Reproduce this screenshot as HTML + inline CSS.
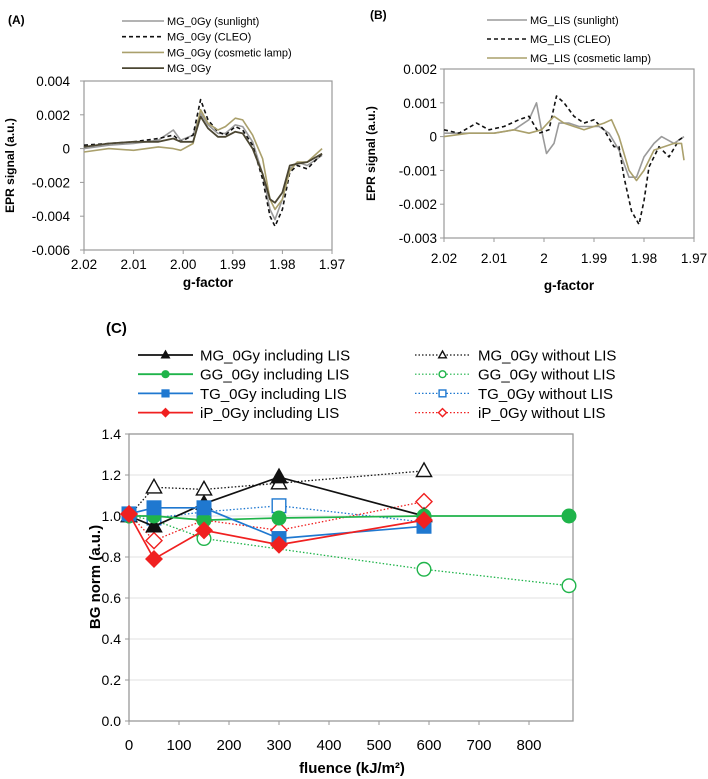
<!DOCTYPE html>
<html><head><meta charset="utf-8"><style>
html,body{margin:0;padding:0;background:#fff}
svg{display:block;font-family:"Liberation Sans",sans-serif}
</style></head><body>
<svg id="chart" width="708" height="779" viewBox="0 0 708 779" xmlns="http://www.w3.org/2000/svg"></svg>
<script>
// ---------- Panel A data ----------
const aG = [2.02,2.015,2.01,2.005,2.002,2.0005,1.998,1.9965,1.995,1.993,1.9915,1.9895,1.988,1.986,1.984,1.9825,1.9815,1.980,1.9785,1.977,1.975,1.972];
const aSun = [0,0.0002,0.0003,0.0005,0.0011,0.0005,0.0008,0.0021,0.0014,0.0009,0.0009,0.0014,0.0013,0.0004,-0.0015,-0.0036,-0.0042,-0.0030,-0.0012,-0.0008,-0.0010,-0.0004];
const aCleo = [0.0002,0.0003,0.0004,0.0006,0.0008,0.0004,0.0008,0.0029,0.0017,0.0010,0.0008,0.0013,0.0011,0.0002,-0.0018,-0.0040,-0.0046,-0.0036,-0.0014,-0.0010,-0.0012,-0.0003];
const aCos = [-0.0002,0,-0.0001,0.0001,0,-0.0001,0.0003,0.0023,0.0015,0.0011,0.0013,0.0018,0.0017,0.0008,-0.0006,-0.0030,-0.0036,-0.0030,-0.0013,-0.0008,-0.0008,0.0000];
const aBase = [0.0001,0.0003,0.0004,0.0004,0.0006,0.0004,0.0004,0.0019,0.0012,0.0007,0.0007,0.0010,0.0009,0.0000,-0.0015,-0.0030,-0.0032,-0.0026,-0.0010,-0.0009,-0.0008,-0.0003];
const aYTicks = ["0.004","0.002","0","-0.002","-0.004","-0.006"];
const aXTicks = ["2.02","2.01","2.00","1.99","1.98","1.97"];
// ---------- Panel B data ----------
const bSunG = [2.02,2.015,2.01,2.006,2.003,2.0015,2.0005,1.9995,1.998,1.997,1.995,1.993,1.991,1.989,1.987,1.985,1.983,1.9815,1.980,1.978,1.9765,1.974,1.972];
const bSun = [0.0001,0.0001,0.0001,0.0002,0.0005,0.0010,0.0002,-0.0005,-0.0002,0.0004,0.0004,0.0003,0.0003,0.0003,0.0001,-0.0004,-0.0012,-0.0012,-0.0006,-0.0002,0,-0.0002,0.0000];
const bCleoG = [2.02,2.017,2.0135,2.011,2.008,2.005,2.003,2.001,1.999,1.9975,1.996,1.994,1.992,1.99,1.988,1.986,1.985,1.984,1.9825,1.981,1.980,1.979,1.977,1.975,1.973,1.972];
const bCleo = [0.0002,0.0001,0.0004,0.0002,0.0003,0.0005,0.0006,0.0001,0.0002,0.0012,0.0010,0.0006,0.0004,0.0005,0.0002,-0.0003,-0.0003,-0.0012,-0.0022,-0.0026,-0.0019,-0.0009,-0.0003,-0.0006,-0.0001,0.0000];
const bCosG = [2.02,2.015,2.01,2.006,2.003,2.0005,1.998,1.996,1.994,1.992,1.990,1.988,1.9865,1.985,1.983,1.9815,1.980,1.978,1.976,1.974,1.9725,1.972];
const bCos = [0,0.0001,0.0001,0.0002,0.0001,0.0002,0.0006,0.0004,0.0003,0.0002,0.0003,0.0004,0.0005,0.0000,-0.0010,-0.0013,-0.0010,-0.0004,-0.0003,-0.0002,-0.0002,-0.0007];
const bYTicks = ["0.002","0.001","0","-0.001","-0.002","-0.003"];
const bXTicks = ["2.02","2.01","2","1.99","1.98","1.97"];
// ---------- Panel C data ----------
const cX5 = [0,50,150,300,590];
const cX6 = [0,50,150,300,590,880];
const cXGGw = [0,50,150,590,880];
const mgInc = [1.0,0.95,1.06,1.19,1.0];
const mgWo = [1.0,1.14,1.13,1.16,1.22];
const ggInc = [1.0,1.0,0.98,0.99,1.0,1.0];
const ggWo = [1.0,0.98,0.89,0.74,0.66];
const tgInc = [1.01,1.04,1.04,0.89,0.95];
const tgWo = [1.01,0.99,1.02,1.05,0.97];
const ipInc = [1.01,0.79,0.93,0.86,0.98];
const ipWo = [1.01,0.88,0.98,0.93,1.07];
const cYTicks = ["0.0","0.2","0.4","0.6","0.8","1.0","1.2","1.4"];
const cXTicks = ["0","100","200","300","400","500","600","700","800"];

const NS="http://www.w3.org/2000/svg";
const svg=document.getElementById('chart');
function el(tag,attrs,parent,text){const e=document.createElementNS(NS,tag);for(const k in attrs)e.setAttribute(k,attrs[k]);if(text!==undefined)e.textContent=text;(parent||svg).appendChild(e);return e;}
function group(name){const g=el('g',{});return g;}
function path(xs,ys,fx,fy){return xs.map((x,i)=>(i?'L':'M')+fx(x).toFixed(1)+','+fy(ys[i]).toFixed(1)).join('');}

function epr(name,lbl,lblX,lblY,L,R,T,B,ymax,ymin,yt,xt,yLabX,xLabY,titleY,ytitleX,series,legend){
  const g=group(name);
  const fx=v=>L+(2.02-v)/0.05*(R-L);
  const fy=v=>T+(ymax-v)/(ymax-ymin)*(B-T);
  const t=el('text',{x:lblX,y:lblY,'font-size':12,'font-weight':'bold'},g,lbl);
  
  const box=el('rect',{x:L,y:T,width:R-L,height:B-T,fill:'none',stroke:'#999','stroke-width':1.2},g);
  
  yt.forEach((s,i)=>{const y=T+i*(B-T)/(yt.length-1);
    el('line',{x1:L-4,x2:L,y1:y,y2:y,stroke:'#999'},g);
    const tt=el('text',{x:yLabX,y:y+5,'font-size':13.5,'text-anchor':'end'},g,s);
    });
  xt.forEach((s,i)=>{const x=L+i*(R-L)/(xt.length-1);
    el('line',{x1:x,x2:x,y1:B,y2:B+4,stroke:'#999'},g);
    const tt=el('text',{x:x,y:xLabY,'font-size':13.5,'text-anchor':'middle'},g,s);
    });
  const xtl=el('text',{x:(L+R)/2,y:titleY,'font-size':13.5,'font-weight':'bold','text-anchor':'middle'},g,'g-factor');
  
  const cy=(T+B)/2;
  const ytl=el('text',{x:ytitleX,y:cy,'font-size':12,'font-weight':'bold','text-anchor':'middle',transform:`rotate(-90 ${ytitleX} ${cy})`},g,'EPR signal (a.u.)');
  
  series.forEach(s=>{const p=el('path',{d:path(s.g,s.v,fx,fy),fill:'none',stroke:s.c,'stroke-width':s.w||1.6,'stroke-dasharray':s.dash||'none','stroke-linejoin':'round'},g);
    });
  legend.rows.forEach((r,i)=>{const y=legend.y0+i*legend.dy;
    const s=series[r.idx];
    el('line',{x1:legend.x1,x2:legend.x2,y1:y,y2:y,stroke:s.c,'stroke-width':s.w||1.6,'stroke-dasharray':s.dash||'none'},g);
    const tt=el('text',{x:legend.x2+3,y:y+4,'font-size':11},g,r.text);
    });
}
epr('panel-a-chart','(A)',8,24,84,332,81,250,0.004,-0.006,aYTicks,aXTicks,70,269,287,14,
 [{name:'series-sunlight',g:aG,v:aSun,c:'#9a9a9a'},
  {name:'series-cleo',g:aG,v:aCleo,c:'#111',dash:'4,3',w:1.6},
  {name:'series-cosmetic-lamp',g:aG,v:aCos,c:'#aaa06c'},
  {name:'series-mg-0gy',g:aG,v:aBase,c:'#4b4632',w:1.8}],
 {x1:122,x2:164,y0:21,dy:15.7,rows:[{idx:0,text:'MG_0Gy (sunlight)'},{idx:1,text:'MG_0Gy (CLEO)'},{idx:2,text:'MG_0Gy (cosmetic lamp)'},{idx:3,text:'MG_0Gy'}]});
epr('panel-b-chart','(B)',370,19,444,694,69,238,0.002,-0.003,bYTicks,bXTicks,437,263,290,375,
 [{name:'series-sunlight',g:bSunG,v:bSun,c:'#9a9a9a'},
  {name:'series-cleo',g:bCleoG,v:bCleo,c:'#111',dash:'4,3'},
  {name:'series-cosmetic-lamp',g:bCosG,v:bCos,c:'#aaa06c'}],
 {x1:487,x2:527,y0:20,dy:19,rows:[{idx:0,text:'MG_LIS (sunlight)'},{idx:1,text:'MG_LIS (CLEO)'},{idx:2,text:'MG_LIS (cosmetic lamp)'}]});

(function(){
  const g=group('panel-c-chart');
  const L=129,R=573,T=434,B=721;
  const fx=v=>L+v*0.5;
  const fy=v=>B-v/1.4*(B-T);
  const t=el('text',{x:106,y:333,'font-size':15,'font-weight':'bold'},g,'(C)');
  
  cYTicks.forEach((s)=>{const v=parseFloat(s);const y=fy(v);
    if(v>0){const gl=el('line',{x1:L,x2:R,y1:y,y2:y,stroke:'#e6e6e6','stroke-width':1.2},g);}
    el('line',{x1:L-4,x2:L,y1:y,y2:y,stroke:'#999'},g);
    const tt=el('text',{x:121,y:y+5,'font-size':14,'text-anchor':'end'},g,s);
    });
  cXTicks.forEach((s)=>{const x=fx(parseFloat(s));
    el('line',{x1:x,x2:x,y1:B,y2:B+4,stroke:'#999'},g);
    const tt=el('text',{x:x,y:750,'font-size':15,'text-anchor':'middle'},g,s);
    });
  const box=el('rect',{x:L,y:T,width:R-L,height:B-T,fill:'none',stroke:'#999','stroke-width':1.3},g);
  
  const xtl=el('text',{x:352,y:773,'font-size':15,'font-weight':'bold','text-anchor':'middle'},g,'fluence (kJ/m²)');
  
  const ytl=el('text',{x:100,y:577,'font-size':15,'font-weight':'bold','text-anchor':'middle',transform:'rotate(-90 100 577)'},g,'BG norm (a.u.)');
  

  function marker(pg,type,x,y,c,filled,sz){
    const f=filled?c:'#fff';let m;
    if(type==='tri') m=el('path',{d:`M${x},${y-sz}L${x+sz*0.95},${y+sz*0.7}L${x-sz*0.95},${y+sz*0.7}Z`,fill:f,stroke:filled?c:'#111','stroke-width':1.4},pg);
    else if(type==='circ') m=el('circle',{cx:x,cy:y,r:sz*0.85,fill:f,stroke:c,'stroke-width':1.4},pg);
    else if(type==='sq') m=el('rect',{x:x-sz*0.85,y:y-sz*0.85,width:sz*1.7,height:sz*1.7,fill:f,stroke:c,'stroke-width':1.4},pg);
    else m=el('path',{d:`M${x},${y-sz}L${x+sz},${y}L${x},${y+sz}L${x-sz},${y}Z`,fill:f,stroke:c,'stroke-width':1.4},pg);
    
  }
  const S=[
    {name:'series-gg-without-lis',xs:cXGGw,ys:ggWo,c:'#1fb44a',m:'circ',f:false,dash:'1.5,2'},
    {name:'series-mg-without-lis',xs:cX5,ys:mgWo,c:'#111',m:'tri',f:false,dash:'1.5,2'},
    {name:'series-tg-without-lis',xs:cX5,ys:tgWo,c:'#1f78d0',m:'sq',f:false,dash:'1.5,2'},
    {name:'series-ip-without-lis',xs:cX5,ys:ipWo,c:'#f02020',m:'dia',f:false,dash:'1.5,2'},
    {name:'series-mg-including-lis',xs:cX5,ys:mgInc,c:'#111',m:'tri',f:true},
    {name:'series-gg-including-lis',xs:cX6,ys:ggInc,c:'#1fb44a',m:'circ',f:true},
    {name:'series-tg-including-lis',xs:cX5,ys:tgInc,c:'#1f78d0',m:'sq',f:true},
    {name:'series-ip-including-lis',xs:cX5,ys:ipInc,c:'#f02020',m:'dia',f:true}];
  S.forEach(s=>{const pg=group(s.name);g.appendChild(pg);
    el('path',{d:path(s.xs,s.ys,fx,fy),fill:'none',stroke:s.c,'stroke-width':s.f?1.7:1.3,'stroke-dasharray':s.dash||'none'},pg);
    s.xs.forEach((x,i)=>marker(pg,s.m,fx(x),fy(s.ys[i]),s.c,s.f,8));});
  const leg=[[4,'MG_0Gy including LIS',0],[5,'GG_0Gy including LIS',0],[6,'TG_0Gy including LIS',0],[7,'iP_0Gy including LIS',0],
             [1,'MG_0Gy without LIS',1],[0,'GG_0Gy without LIS',1],[2,'TG_0Gy without LIS',1],[3,'iP_0Gy without LIS',1]];
  leg.forEach((e,i)=>{const s=S[e[0]];const row=i%4;const y=355+row*19.2;
    const x1=e[2]?415:138,x2=e[2]?470:193;
    const lg=group('legend-entry');g.appendChild(lg);
    el('line',{x1:x1,x2:x2,y1:y,y2:y,stroke:s.c,'stroke-width':s.f?1.8:1.2,'stroke-dasharray':s.dash||'none'},lg);
    marker(lg,s.m,(x1+x2)/2,y,s.c,s.f,4);
    el('text',{x:e[2]?478:200,y:y+5.5,'font-size':15},lg,e[1]);});
})();
</script>
</body></html>
